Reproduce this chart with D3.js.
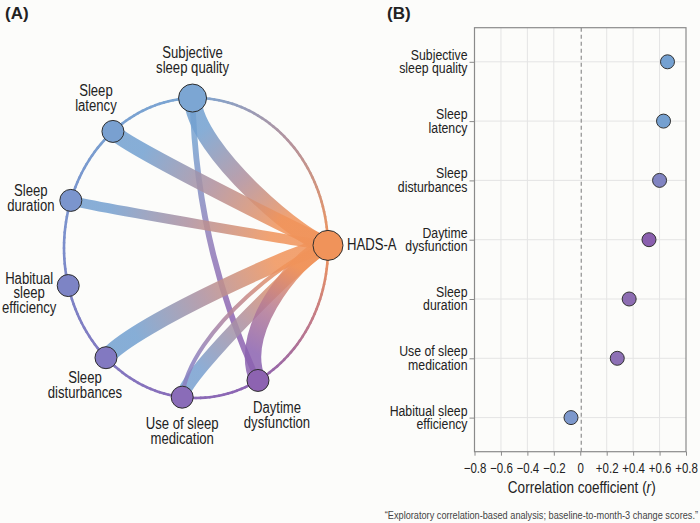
<!DOCTYPE html>
<html>
<head>
<meta charset="utf-8">
<script src="https://cdn.jsdelivr.net/npm/d3@7"></script>
<style>
body { margin: 0; background: #fcfcfa; }
svg text { font-family: 'Liberation Sans', Arial, sans-serif; fill: #222; }
</style>
</head>
<body>
<div id="chart"></div>
<script>
//panel B data: correlation of each sleep component with HADS-A (change scores)
var domains = ["Subjective sleep quality", "Sleep latency", "Sleep disturbances", "Daytime dysfunction",
    "Sleep duration", "Use of sleep medication", "Habitual sleep efficiency"];
var rValues = [0.66, 0.63, 0.60, 0.52, 0.37, 0.28, -0.07];
var domainLabels = [["Subjective", "sleep quality"], ["Sleep", "latency"], ["Sleep", "disturbances"],
    ["Daytime", "dysfunction"], ["Sleep", "duration"], ["Use of sleep", "medication"], ["Habitual sleep", "efficiency"]];
var xTicks = [-0.8, -0.6, -0.4, -0.2, 0, 0.2, 0.4, 0.6, 0.8];

//panel A data: nodes around the ring and the links between them
var nodeNames = ["HADS-A", "Subjective sleep quality", "Sleep latency", "Sleep duration",
    "Habitual sleep efficiency", "Sleep disturbances", "Use of sleep medication", "Daytime dysfunction"];
var nodeLabels = [["HADS-A"], ["Subjective", "sleep quality"], ["Sleep", "latency"], ["Sleep", "duration"],
    ["Habitual", "sleep", "efficiency"], ["Sleep", "disturbances"], ["Use of sleep", "medication"], ["Daytime", "dysfunction"]];
var linkSources = ["Subjective sleep quality", "Sleep latency", "Sleep duration", "Sleep disturbances",
    "Use of sleep medication", "Use of sleep medication", "Daytime dysfunction", "Subjective sleep quality"];
var linkTargets = ["HADS-A", "HADS-A", "HADS-A", "HADS-A", "HADS-A", "HADS-A", "HADS-A", "Daytime dysfunction"];
var linkStrength = [0.66, 0.60, 0.37, 0.62, 0.50, 0.15, 0.62, 0.22];

var footnote = "\u201CExploratory correlation-based analysis; baseline-to-month-3 change scores.\u201D";

//page size
var width = 700, height = 523;
var squeeze = 0.82; //the figure uses a condensed face, so squash text horizontally

var svg = d3.select("#chart")
    .append("svg")
    .attr("width", width)
    .attr("height", height);

svg.append("rect")
    .attr("width", width)
    .attr("height", height)
    .attr("fill", "#fcfcfa");

var defs = svg.append("defs");

//multi-line condensed label anchored at (x, y) = first baseline
function narrowText(parent, x, y, lines, size, anchor, lineHeight){
    var g = parent.append("g")
        .attr("transform", "translate(" + x + "," + y + ") scale(" + squeeze + ",1)");
    lines.forEach(function(l, i){
        g.append("text")
            .attr("x", 0)
            .attr("y", i * lineHeight)
            .attr("font-size", size)
            .attr("text-anchor", anchor)
            .text(l);
    });
    return g;
}

// ---------- panel A : ring network ----------
var ring = {cx: 196, cy: 248, rx: 132, ry: 150};

//where each node sits on the ring (degrees, y down)
var nodeAngle = {
    "HADS-A": -1, "Subjective sleep quality": -91.5, "Sleep latency": -129, "Sleep duration": -161.5,
    "Habitual sleep efficiency": 165.5, "Sleep disturbances": 133, "Use of sleep medication": 96, "Daytime dysfunction": 62
};
//label offsets from the node: dx, dy of first baseline, anchor
var labelPos = {
    "HADS-A": [19, 5, "start"], "Subjective sleep quality": [0, -40, "middle"], "Sleep latency": [-17, -35, "middle"],
    "Sleep duration": [-40, -4, "middle"], "Habitual sleep efficiency": [-39, -2, "middle"],
    "Sleep disturbances": [-21, 25.5, "middle"], "Use of sleep medication": [0, 32, "middle"], "Daytime dysfunction": [19, 33, "middle"]
};
//[source pull, target pull] toward the ring centre for each link curve
var linkBend = [[0.35, 0.15], [0.12, 0.02], [0.1, 0.05], [0.3, 0.15], [0.15, 0.1], [0.45, 0.2], [0.4, 0.15], [0.45, 0.85]];
//colour where each link leaves its source
var linkStart = ["#72a0d0", "#72a0d0", "#74a0d0", "#72a0d0", "#78a0d0", "#8a80c0", "#8b62b0", "#78a2d0"];
var purpleTint = "#a77aae";

//colour of the ring by angle
var ringColor = d3.scaleLinear()
    .domain([-180, -130, -90, -45, 0, 30, 62, 96, 133, 165, 180])
    .range(["#7c8ecb", "#79a0d0", "#7ca6d3", "#b3939e", "#f0955a", "#c07a8a", "#8d63b1", "#8a6cb8", "#8279c1", "#7d84c5", "#7c8ecb"])
    .interpolate(d3.interpolateRgb);

function ringPoint(deg){
    var t = deg * Math.PI / 180;
    return [ring.cx + ring.rx * Math.cos(t), ring.cy + ring.ry * Math.sin(t)];
}

var nodes = nodeNames.map(function(n, i){
    var p = ringPoint(nodeAngle[n]);
    return {name: n, label: nodeLabels[i], x: p[0], y: p[1],
        r: n == "HADS-A" ? 15 : (n == "Subjective sleep quality" ? 14 : 11),
        color: n == "HADS-A" ? "#f0935a" : ringColor(nodeAngle[n])};
});
var nodeByName = {};
nodes.forEach(function(d){ nodeByName[d.name] = d; });

var gA = svg.append("g").attr("class", "panelA");

//ring outline drawn as short coloured segments
var segs = d3.range(-180, 180, 2);
gA.selectAll(".ringseg")
    .data(segs)
    .enter()
    .append("line")
    .attr("class", "ringseg")
    .attr("x1", function(d){ return ringPoint(d)[0]; })
    .attr("y1", function(d){ return ringPoint(d)[1]; })
    .attr("x2", function(d){ return ringPoint(d + 2)[0]; })
    .attr("y2", function(d){ return ringPoint(d + 2)[1]; })
    .attr("stroke", function(d){ return ringColor(d + 1); })
    .attr("stroke-width", 2.6)
    .attr("stroke-linecap", "round");

var linkWidth = d3.scaleLinear().domain([0, 0.66]).range([0, 17.5]);

var links = linkSources.map(function(s, i){
    return {source: nodeByName[s], target: nodeByName[linkTargets[i]], value: linkStrength[i],
        bend: linkBend[i], start: linkStart[i], id: i};
});

function linkPath(d){
    var s = d.source, t = d.target;
    var a = d.bend[0], b = d.bend[1];
    var c1 = [s.x + a * (ring.cx - s.x), s.y + a * (ring.cy - s.y)];
    var c2 = [t.x + b * (ring.cx - t.x), t.y + b * (ring.cy - t.y)];
    var p = d3.path();
    p.moveTo(s.x, s.y);
    p.bezierCurveTo(c1[0], c1[1], c2[0], c2[1], t.x, t.y);
    return p.toString();
}

//one gradient per link: start colour, a mauve middle, target colour
links.forEach(function(d){
    var grad = defs.append("linearGradient")
        .attr("id", "lg" + d.id)
        .attr("gradientUnits", "userSpaceOnUse")
        .attr("x1", d.source.x).attr("y1", d.source.y)
        .attr("x2", d.target.x).attr("y2", d.target.y);
    var mix = d3.interpolateRgb(d.start, d.target.color);
    var mid = d3.interpolateRgb(mix(0.5), purpleTint)(0.35);
    grad.append("stop").attr("offset", "0%").attr("stop-color", d.start);
    grad.append("stop").attr("offset", "15%").attr("stop-color", d.start);
    grad.append("stop").attr("offset", "46%").attr("stop-color", mid);
    grad.append("stop").attr("offset", "78%").attr("stop-color", d.target.color);
    grad.append("stop").attr("offset", "100%").attr("stop-color", d.target.color);
});

//draw the thin subjective-daytime link first
var drawOrder = links.slice().sort(function(a, b){ return a.target.name == "HADS-A" ? 1 : -1; });

gA.selectAll(".link")
    .data(drawOrder)
    .enter()
    .append("path")
    .attr("class", "link")
    .attr("d", linkPath)
    .attr("fill", "none")
    .attr("stroke", function(d){ return "url(#lg" + d.id + ")"; })
    .attr("stroke-width", function(d){ return linkWidth(d.value); })
    .attr("stroke-opacity", 0.85);

gA.selectAll(".node")
    .data(nodes)
    .enter()
    .append("circle")
    .attr("class", "node")
    .attr("cx", function(d){ return d.x; })
    .attr("cy", function(d){ return d.y; })
    .attr("r", function(d){ return d.r; })
    .attr("fill", function(d){ return d.color; })
    .attr("stroke", "#2e2e2e")
    .attr("stroke-width", 1);

nodes.forEach(function(d){
    var lp = labelPos[d.name];
    narrowText(gA, d.x + lp[0], d.y + lp[1], d.label, 16, lp[2], 14.8);
});

svg.append("text")
    .attr("x", 5).attr("y", 19)
    .attr("font-size", 17)
    .attr("font-weight", "bold")
    .text("(A)");

// ---------- panel B : dot plot ----------
var plot = {left: 474.5, right: 686, top: 27.7, bottom: 451.7};

var xB = d3.scaleLinear()
    .domain([-0.8, 0.8])
    .range([plot.left, plot.right]);

var yB = d3.scalePoint()
    .domain(domains)
    .range([plot.top, plot.bottom])
    .padding(0.575);

var pointColor = d3.scaleOrdinal()
    .domain(domains)
    .range(["#75a1d1", "#75a0d0", "#8184c2", "#8a5fae", "#8d6db2", "#8d70b5", "#7d98cc"]);

var gB = svg.append("g").attr("class", "panelB");

//gridlines
gB.selectAll(".vgrid")
    .data(xTicks.filter(function(d){ return Math.abs(d) < 0.75 && d != 0; }))
    .enter()
    .append("line")
    .attr("class", "vgrid")
    .attr("x1", function(d){ return xB(d); })
    .attr("x2", function(d){ return xB(d); })
    .attr("y1", plot.top)
    .attr("y2", plot.bottom)
    .attr("stroke", "#e4e4e4")
    .attr("stroke-width", 1);

gB.selectAll(".hgrid")
    .data(domains)
    .enter()
    .append("line")
    .attr("class", "hgrid")
    .attr("x1", plot.left)
    .attr("x2", plot.right)
    .attr("y1", function(d){ return yB(d); })
    .attr("y2", function(d){ return yB(d); })
    .attr("stroke", "#e4e4e4")
    .attr("stroke-width", 1);

//zero reference
gB.append("line")
    .attr("x1", xB(0) + 1).attr("x2", xB(0) + 1)
    .attr("y1", plot.top).attr("y2", plot.bottom)
    .attr("stroke", "#8f8f8f")
    .attr("stroke-width", 1.2)
    .attr("stroke-dasharray", "4,3");

//frame
gB.append("rect")
    .attr("x", plot.left)
    .attr("y", plot.top)
    .attr("width", plot.right - plot.left)
    .attr("height", plot.bottom - plot.top)
    .attr("fill", "none")
    .attr("stroke", "#8a8a8a")
    .attr("stroke-width", 1.2);

function tickFormat(d){
    if (Math.abs(d) < 1e-9) return "0";
    var s = Math.abs(d).toFixed(1);
    return (d < 0 ? "\u2212" : "+") + s;
}

var xAxis = gB.append("g")
    .attr("transform", "translate(0," + plot.bottom + ")")
    .call(d3.axisBottom(xB).tickValues(xTicks).tickSize(4).tickPadding(7).tickFormat(tickFormat));
xAxis.select(".domain").remove();
xAxis.selectAll(".tick line").attr("stroke", "#8a8a8a");
xAxis.selectAll(".tick text")
    .attr("font-size", 14)
    .attr("fill", "#222")
    .attr("transform", "scale(" + squeeze + ",1)");
xAxis.attr("font-family", null);

var yAxis = gB.append("g")
    .attr("transform", "translate(" + plot.left + ",0)")
    .call(d3.axisLeft(yB).tickSize(5).tickFormat(""));
yAxis.select(".domain").remove();
yAxis.selectAll(".tick line").attr("stroke", "#8a8a8a");

//two-line category labels
domains.forEach(function(d, i){
    narrowText(gB, plot.left - 7, yB(d) - 2, domainLabels[i], 15, "end", 13.5);
});

//points
gB.selectAll(".dot")
    .data(domains)
    .enter()
    .append("circle")
    .attr("class", "dot")
    .attr("cx", function(d, i){ return xB(rValues[i]); })
    .attr("cy", function(d){ return yB(d); })
    .attr("r", 7)
    .attr("fill", function(d){ return pointColor(d); })
    .attr("stroke", "#333")
    .attr("stroke-width", 1);

//axis title
var titleG = gB.append("g")
    .attr("transform", "translate(" + ((plot.left + plot.right) / 2 + 1.5) + ",492.7) scale(" + squeeze + ",1)");
var title = titleG.append("text")
    .attr("font-size", 16.5)
    .attr("text-anchor", "middle");
title.append("tspan").text("Correlation coefficient (");
title.append("tspan").attr("font-style", "italic").text("r");
title.append("tspan").text(")");

svg.append("text")
    .attr("x", 387).attr("y", 19)
    .attr("font-size", 17)
    .attr("font-weight", "bold")
    .text("(B)");

narrowText(svg, 698, 519, [footnote], 11.2, "end", 0)
    .select("text").style("fill", "#444");
</script>
</body>
</html>
